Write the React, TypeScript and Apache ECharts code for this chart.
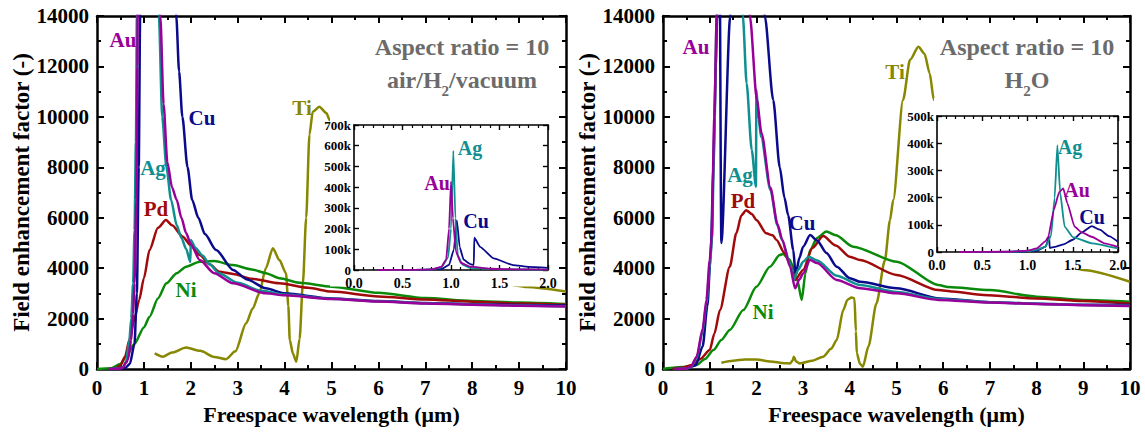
import React, { useEffect, useRef } from 'react';
import * as echarts from 'echarts';

const FONT = 'Liberation Serif';
const COL = { au: '#990099', ag: '#0f8f8f', cu: '#0a0a8c', pd: '#a00a0a', ni: '#0a8a0a', ti: '#878700' };
const TITLE_GRAY = '#6b6b6b';

type P = [number, number][];

// main axis ticks
const mainXTicks = { min: 0, max: 10, interval: 1 };
const mainYTicks = { min: 0, max: 14000, interval: 2000 };
const insetXTicks = { min: 0, max: 2, interval: 0.5 };
const insetYAirMax = 700000;
const insetYWaterMax = 500000;
const insetYInterval = 100000;

// ---------- air / H2 / vacuum ----------
const tiAir: P = [[1.23,620],[1.4,490],[1.6,650],[1.9,850],[2.2,720],[2.5,480],[2.75,390],[2.95,700],[3.18,1810],[3.32,2400],[3.46,3000],[3.6,4000],[3.75,4790],[3.89,4320],[4.03,3800],[4.08,2500],[4.11,1150],[4.18,600],[4.25,290],[4.32,1200],[4.39,3400],[4.46,6000],[4.53,9300],[4.6,10200],[4.74,10400],[4.89,10150],[4.96,9880],[5.2,9000],[5.5,7700],[6,6200],[7,4700],[8,3800],[9,3290],[9.16,3250],[10,3070]];
const niAir: P = [[0,0],[0.3,30],[0.5,200],[0.62,490],[0.8,1000],[1.0,1650],[1.12,2075],[1.3,2800],[1.48,3400],[1.7,3800],[1.9,4060],[2.19,4256],[2.5,4280],[2.9,4120],[3.3,3950],[3.6,3800],[3.89,3600],[4.32,3420],[5,3265],[6,3020],[7,2816],[8,2700],[9,2640],[10,2580]];
const pdAir: P = [[0.25,0],[0.4,30],[0.5,150],[0.6,500],[0.69,1150],[0.8,2000],[0.9,2740],[1.0,3600],[1.12,4720],[1.3,5600],[1.47,5910],[1.6,5700],[1.83,5250],[2.0,4900],[2.19,4520],[2.4,4150],[2.61,3860],[2.9,3770],[3.3,3580],[3.89,3400],[4.5,3220],[5,3070],[6,2880],[7,2760],[8,2670],[9,2600],[10,2550]];
const cuAir: P = [[0.3,0],[0.5,10],[0.6,40],[0.7,200],[0.8,1000],[0.85,3000],[0.89,8000],[0.92,14000],[0.96,30000],[1.2,60000],[1.6,20000],[1.69,14000],[1.75,11800],[1.82,10000],[1.93,8000],[2.03,6700],[2.16,6000],[2.3,5350],[2.54,4720],[2.9,3930],[3.2,3550],[3.6,3200],[4,3000],[5,2800],[6,2700],[7,2620],[8,2570],[9,2540],[10,2520]];
const agAir: P = [[0.25,0],[0.45,15],[0.55,70],[0.62,300],[0.69,1150],[0.73,2000],[0.77,3400],[0.8,5500],[0.83,9000],[0.85,14000],[0.9,40000],[1.1,80000],[1.28,20000],[1.32,14000],[1.39,10000],[1.48,8000],[1.58,6700],[1.7,5700],[1.8,5200],[1.9,4760],[1.99,4250],[2.0,5120],[2.1,4800],[2.25,4500],[2.4,4150],[2.6,3800],[3,3420],[3.5,3100],[4,2950],[5,2790],[6,2690],[7,2610],[8,2560],[9,2520],[10,2490]];
const auAir: P = [[0.25,0],[0.45,10],[0.55,50],[0.62,250],[0.66,360],[0.73,1150],[0.77,2200],[0.8,3400],[0.84,6700],[0.86,12000],[0.9,40000],[1.1,80000],[1.3,20000],[1.35,14000],[1.42,10500],[1.5,8200],[1.6,7200],[1.7,6700],[1.8,6000],[1.9,5390],[2.0,4950],[2.19,4320],[2.5,3800],[2.9,3400],[3.6,3000],[4,2920],[5,2780],[6,2680],[7,2600],[8,2550],[9,2510],[10,2480]];

const auInAir: P = [[0.25,0],[0.6,300],[0.8,3000],[0.9,15000],[0.95,50000],[0.98,200000],[1.0,426000],[1.02,250000],[1.05,90000],[1.1,35000],[1.2,16000],[1.4,6000],[1.7,3000],[2.0,2000]];
const agInAir: P = [[0.25,0],[0.6,200],[0.8,2500],[0.9,12000],[0.97,60000],[1.0,200000],[1.024,575000],[1.045,250000],[1.07,70000],[1.12,25000],[1.2,10000],[1.5,3000],[2.0,1500]];
const cuInAir: P = [[0.25,0],[0.7,300],[0.9,5000],[0.98,25000],[1.03,100000],[1.06,241000],[1.09,110000],[1.13,50000],[1.2,28000],[1.235,24000],[1.24,156000],[1.3,112000],[1.44,56000],[1.64,24000],[1.8,15000],[2.0,10000]];

// ---------- H2O ----------
const tiWater: P = [[1.25,250],[1.5,330],[1.75,380],[2.0,380],[2.3,300],[2.6,230],[2.72,220],[2.78,350],[2.8,490],[2.85,300],[2.93,220],[3.2,330],[3.43,490],[3.6,800],[3.72,1150],[3.86,2340],[3.95,2750],[4.04,2840],[4.1,2800],[4.13,1500],[4.15,620],[4.22,200],[4.28,90],[4.4,900],[4.57,2600],[4.75,4300],[4.86,5900],[4.93,6700],[5.14,10670],[5.29,12260],[5.47,12780],[5.6,12500],[5.71,11730],[5.8,10670],[6,9500],[6.5,7300],[7,6000],[8,4700],[9,3930],[10,3460]];
const niWater: P = [[0,0],[0.15,40],[0.5,90],[0.72,160],[0.9,400],[1.08,750],[1.25,1150],[1.43,1550],[1.72,2340],[2.0,3260],[2.29,4060],[2.5,4520],[2.57,4560],[2.7,4350],[2.79,4060],[2.88,3500],[2.97,2740],[3.05,3800],[3.15,4720],[3.3,5200],[3.5,5450],[3.7,5300],[4.07,4850],[5,4256],[5.9,3330],[6.1,3250],[7,3130],[8,2870],[9,2740],[10,2670]];
const pdWater: P = [[0.2,0],[0.43,60],[0.6,150],[0.8,400],[1.0,750],[1.1,1400],[1.22,2340],[1.43,4060],[1.57,5380],[1.68,6100],[1.78,6300],[1.9,6150],[2.0,5910],[2.21,5380],[2.35,5300],[2.43,5120],[2.6,4600],[2.72,4190],[2.83,3530],[3.0,3930],[3.2,4800],[3.43,5270],[3.7,4900],[4.0,4450],[4.22,4320],[5,3730],[5.9,3130],[6.2,3070],[6.86,2935],[8,2800],[9,2700],[10,2600]];
const cuWater: P = [[0.25,0],[0.5,10],[0.7,150],[0.85,900],[0.95,2500],[1.02,4500],[1.08,8000],[1.13,12000],[1.16,14000],[1.19,25000],[1.25,5000],[1.44,14000],[1.5,30000],[2.0,30000],[2.18,14000],[2.36,10670],[2.5,8000],[2.6,6800],[2.68,6100],[2.79,4720],[2.84,3730],[2.92,4400],[3.0,4850],[3.15,5310],[3.3,5100],[3.5,4600],[3.72,4060],[4.0,3600],[4.22,3460],[5,3200],[5.93,2800],[7,2650],[8,2590],[9,2550],[10,2540]];
const agWater: P = [[0.25,0],[0.5,15],[0.6,80],[0.72,430],[0.85,1500],[0.93,2600],[1.0,4000],[1.05,5200],[1.1,9500],[1.15,14000],[1.2,40000],[1.45,60000],[1.65,18000],[1.71,14000],[1.79,11330],[1.9,8690],[1.99,7230],[2.0,11070],[2.05,9900],[2.1,9200],[2.3,7100],[2.45,5700],[2.55,5100],[2.72,4200],[2.8,3530],[2.9,3950],[3.0,4250],[3.12,4450],[3.3,4300],[3.72,3700],[4.22,3330],[5,3050],[5.9,2780],[7,2650],[8,2590],[9,2540],[10,2510]];
const auWater: P = [[0.25,0],[0.5,20],[0.6,100],[0.72,490],[0.85,1600],[0.93,2740],[1.0,4300],[1.04,5200],[1.1,10000],[1.15,14000],[1.2,30000],[1.5,80000],[1.8,20000],[1.86,14000],[2.01,10670],[2.11,9350],[2.3,7200],[2.45,5750],[2.55,5150],[2.72,4060],[2.83,3200],[2.92,3550],[3.0,3790],[3.15,4320],[3.3,4200],[3.72,3530],[4.22,3200],[5,3000],[5.9,2740],[7,2640],[8,2580],[9,2530],[10,2500]];

const agInWater: P = [[0.25,0],[0.8,800],[1.0,3000],[1.1,8000],[1.2,20000],[1.26,60000],[1.3,200000],[1.33,393000],[1.36,220000],[1.41,93000],[1.5,55000],[1.71,32000],[2.0,13000]];
const auInWater: P = [[0.25,0],[0.8,1000],[1.0,5000],[1.1,13000],[1.2,40000],[1.23,56000],[1.29,154000],[1.35,220000],[1.395,234000],[1.44,180000],[1.52,93000],[1.6,72000],[1.71,56000],[1.85,32000],[2.0,19000]];
const cuInWater: P = [[0.25,0],[0.9,1000],[1.1,4000],[1.2,20000],[1.24,56000],[1.245,15000],[1.3,19000],[1.4,28000],[1.5,45000],[1.6,72000],[1.71,95000],[1.8,82000],[1.9,58000],[2.0,38000]];

const grids = [
  { left: 97, top: 16, width: 469, height: 353 },
  { left: 663, top: 16, width: 467, height: 353 },
  { left: 354, top: 125, width: 194, height: 145, z: 11 },
  { left: 937, top: 116, width: 181, height: 136, z: 11 },
];

function baseAxis(gi: number, pos: string, main: boolean, showLabel: boolean, z: number) {
  return {
    type: 'value', gridIndex: gi, position: pos, z,
    axisLine: { show: true, onZero: false, lineStyle: { color: '#000', width: main ? 2.5 : 1.6 } },
    axisTick: { show: true, inside: true, length: main ? 7 : 5, lineStyle: { color: '#000', width: main ? 2 : 1.4 } },
    minorTick: { show: true, splitNumber: main ? 2 : 5, length: main ? 4 : 3, lineStyle: { color: '#000', width: main ? 2 : 1.2 } },
    splitLine: { show: false },
    axisLabel: {
      show: showLabel, color: '#000', fontFamily: FONT, fontWeight: 'bold', fontSize: main ? 21 : 13, margin: main ? 8 : 4,
      formatter: (v: number) => String(v),
    },
  };
}

function mainX(gi: number, pos: string) {
  const a: any = { ...baseAxis(gi, pos, true, pos === 'bottom', 0), ...mainXTicks };
  if (pos === 'bottom') {
    a.name = 'Freespace wavelength (\u03bcm)';
    a.nameLocation = 'middle';
    a.nameGap = 34;
    a.nameTextStyle = { color: '#000', fontFamily: FONT, fontWeight: 'bold', fontSize: 22 };
  }
  return a;
}
function mainY(gi: number, pos: string) {
  const a: any = { ...baseAxis(gi, pos, true, pos === 'left', 0), ...mainYTicks };
  if (pos === 'left') {
    a.name = 'Field enhancement factor (-)';
    a.nameLocation = 'middle';
    a.nameGap = 58;
    a.nameTextStyle = { color: '#000', fontFamily: FONT, fontWeight: 'bold', fontSize: 23 };
  }
  return a;
}
function insetX(gi: number, pos: string) {
  const a: any = { ...baseAxis(gi, pos, false, pos === 'bottom', 11), ...insetXTicks };
  a.axisLabel = { ...a.axisLabel, fontSize: 14, margin: 6, formatter: (v: number) => v.toFixed(1) };
  return a;
}
function insetY(gi: number, pos: string, max: number) {
  const a: any = { ...baseAxis(gi, pos, false, pos === 'left', 11), min: 0, max, interval: insetYInterval };
  a.minorTick = { show: false };
  a.axisLabel = { ...a.axisLabel, margin: 3, formatter: (v: number) => (v === 0 ? '0' : v / 1000 + 'k') };
  return a;
}

function line(data: P, color: string, xi: number, inset: boolean) {
  return {
    type: 'line', data, xAxisIndex: xi, yAxisIndex: xi, showSymbol: false, symbol: 'none',
    smooth: inset ? 0.15 : 0.25, smoothMonotone: 'x', clip: true, z: inset ? 12 : 2,
    lineStyle: { color, width: inset ? 1.8 : 2.5 }, silent: true,
  };
}

function label(text: string, x: number, y: number, color: string, size: number) {
  return {
    type: 'text', x, y, z: 20,
    style: { text, fill: color, font: `bold ${size}px ${FONT}`, align: 'center', verticalAlign: 'middle', textAlign: 'center', textVerticalAlign: 'middle' },
  };
}
function subLine(parts: string[], x: number, y: number) {
  const txt = parts.map((p, i) => (i % 2 === 0 ? `{a|${p}}` : `{s|${p}}`)).join('');
  return {
    type: 'text', x, y, z: 20,
    style: {
      text: txt, fill: TITLE_GRAY, font: `bold 24px ${FONT}`, align: 'center', verticalAlign: 'middle', textAlign: 'center', textVerticalAlign: 'middle',
      rich: {
        a: { fontFamily: FONT, fontWeight: 'bold', fontSize: 24, lineHeight: 36, fill: TITLE_GRAY, color: TITLE_GRAY, verticalAlign: 'middle' },
        s: { fontFamily: FONT, fontWeight: 'bold', fontSize: 15, lineHeight: 14, fill: TITLE_GRAY, color: TITLE_GRAY, verticalAlign: 'bottom' },
      },
    },
  };
}

const option: any = {
  animation: false,
  backgroundColor: '#fff',
  textStyle: { fontFamily: FONT },
  grid: grids,
  xAxis: [mainX(0, 'bottom'), mainX(0, 'top'), mainX(1, 'bottom'), mainX(1, 'top'), insetX(2, 'bottom'), insetX(2, 'top'), insetX(3, 'bottom'), insetX(3, 'top')],
  yAxis: [mainY(0, 'left'), mainY(0, 'right'), mainY(1, 'left'), mainY(1, 'right'), insetY(2, 'left', insetYAirMax), insetY(2, 'right', insetYAirMax), insetY(3, 'left', insetYWaterMax), insetY(3, 'right', insetYWaterMax)],
  series: [
    line(tiAir, COL.ti, 0, false), line(niAir, COL.ni, 0, false), line(pdAir, COL.pd, 0, false),
    line(cuAir, COL.cu, 0, false), line(agAir, COL.ag, 0, false), line(auAir, COL.au, 0, false),
    line(tiWater, COL.ti, 2, false), line(niWater, COL.ni, 2, false), line(pdWater, COL.pd, 2, false),
    line(cuWater, COL.cu, 2, false), line(agWater, COL.ag, 2, false), line(auWater, COL.au, 2, false),
    line(cuInAir, COL.cu, 4, true), line(agInAir, COL.ag, 4, true), line(auInAir, COL.au, 4, true),
    line(cuInWater, COL.cu, 6, true), line(agInWater, COL.ag, 6, true), line(auInWater, COL.au, 6, true),
  ],
  graphic: [
    { type: 'rect', z: 10, shape: { x: 330, y: 117, width: 228, height: 169.5 }, style: { fill: '#fff' } },
    { type: 'rect', z: 10, shape: { x: 934, y: 98, width: 188, height: 171 }, style: { fill: '#fff' } },
    label('Au', 123, 40, COL.au, 21), label('Cu', 202, 118, COL.cu, 21), label('Ag', 153, 168, COL.ag, 21),
    label('Pd', 156, 209, COL.pd, 21), label('Ni', 186, 290, COL.ni, 21), label('Ti', 302, 108, COL.ti, 21),
    label('Ag', 470, 148, COL.ag, 20), label('Au', 437, 183, COL.au, 20), label('Cu', 476, 221, COL.cu, 20),
    label('Au', 696, 47, COL.au, 21), label('Ag', 740, 175, COL.ag, 21), label('Pd', 743, 201, COL.pd, 21),
    label('Cu', 802, 223, COL.cu, 21), label('Ni', 763, 312, COL.ni, 21), label('Ti', 895, 72, COL.ti, 21),
    label('Ag', 1070, 147, COL.ag, 20), label('Au', 1077, 190, COL.au, 20), label('Cu', 1092, 217, COL.cu, 20),
    label('Aspect ratio = 10', 462, 47, TITLE_GRAY, 24),
    subLine(['air/H', '2', '/vacuum'], 462, 80),
    label('Aspect ratio = 10', 1027, 47, TITLE_GRAY, 24),
    subLine(['H', '2', 'O'], 1027, 80),
  ],
};

export default function App() {
  const ref = useRef<HTMLDivElement>(null);
  useEffect(() => {
    const chart = echarts.init(ref.current!, null, { renderer: 'svg' });
    chart.setOption(option);
    return () => chart.dispose();
  }, []);
  return <div ref={ref} style={{ position: 'absolute', left: 0, top: 0, width: 1145, height: 432 }} />;
}
